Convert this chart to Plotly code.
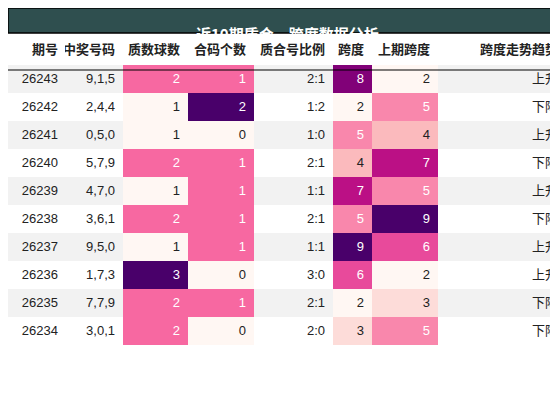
import plotly.graph_objects as go
from plotly.colors import sample_colorscale

title = "近10期质合，跨度数据分析"
headers = ["期号", "中奖号码", "质数球数", "合码个数", "质合号比例", "跨度", "上期跨度", "跨度走势趋势"]
periods = ["26243", "26242", "26241", "26240", "26239", "26238", "26237", "26236", "26235", "26234"]
numbers = ["9,1,5", "2,4,4", "0,5,0", "5,7,9", "4,7,0", "3,6,1", "9,5,0", "1,7,3", "7,7,9", "3,0,1"]
prime_cnt = [2, 1, 1, 2, 1, 2, 1, 3, 2, 2]
composite_cnt = [1, 2, 0, 1, 1, 1, 1, 0, 1, 0]
ratio = ["2:1", "1:2", "1:0", "2:1", "1:1", "2:1", "1:1", "3:0", "2:1", "2:0"]
span = [8, 2, 5, 4, 7, 5, 9, 6, 2, 3]
prev_span = [2, 5, 4, 7, 5, 9, 6, 2, 3, 5]
trend = ["上升", "下降", "上升", "下降", "上升", "下降", "上升", "上升", "下降", "下降"]

row_bg = ["#f2f2f2" if i % 2 == 0 else "white" for i in range(len(periods))]


def heat(vals):
    lo, hi = min(vals), max(vals)
    t = [(v - lo) / (hi - lo) for v in vals]
    fills = sample_colorscale("RdPu", t)
    fonts = ["white" if x > 0.4 else "#222" for x in t]
    return fills, fonts


heat_cols = [heat(c) for c in (prime_cnt, composite_cnt, span, prev_span)]
fills = [row_bg, row_bg, heat_cols[0][0], heat_cols[1][0], row_bg, heat_cols[2][0], heat_cols[3][0], row_bg]
fonts = [["#222"] * 10, ["#222"] * 10, heat_cols[0][1], heat_cols[1][1], ["#222"] * 10,
         heat_cols[2][1], heat_cols[3][1], ["#222"] * 10]

font_family = "Liberation Sans, Noto Sans CJK SC"
fig = go.Figure(go.Table(
    domain=dict(x=[0, 1], y=[0, 1 - 26 / 403]),
    columnwidth=[58, 57, 65, 66, 79, 39, 66, 128],
    header=dict(values=[f"<b>{h}</b>" for h in headers], fill_color="white", line_color="rgba(0,0,0,0)",
                align="right", height=30, font=dict(size=13, color="#222", family=font_family)),
    cells=dict(values=[periods, numbers, prime_cnt, composite_cnt, ratio, span, prev_span, trend],
               fill_color=fills, line_color="rgba(0,0,0,0)", align="right", height=28,
               font=dict(size=13, color=fonts, family=font_family)),
))
fig.add_shape(type="rect", xref="paper", yref="paper", x0=0, x1=1, y0=1 - 25 / 403, y1=1,
              fillcolor="#2f4f4f", line=dict(color="black", width=1.5))
fig.add_shape(type="line", xref="paper", yref="paper", x0=0, x1=1, y0=1 - 62 / 403, y1=1 - 62 / 403,
              line=dict(color="black", width=1.2))
fig.add_annotation(text=f"<b>{title}</b>", xref="paper", yref="paper", x=0.5, y=1 - 12.5 / 403,
                   showarrow=False, font=dict(size=15, color="white", family="Noto Sans CJK SC"))
fig.update_layout(width=558, height=403, margin=dict(l=0, r=0, t=0, b=0), paper_bgcolor="white")
fig.write_html("out.html")
